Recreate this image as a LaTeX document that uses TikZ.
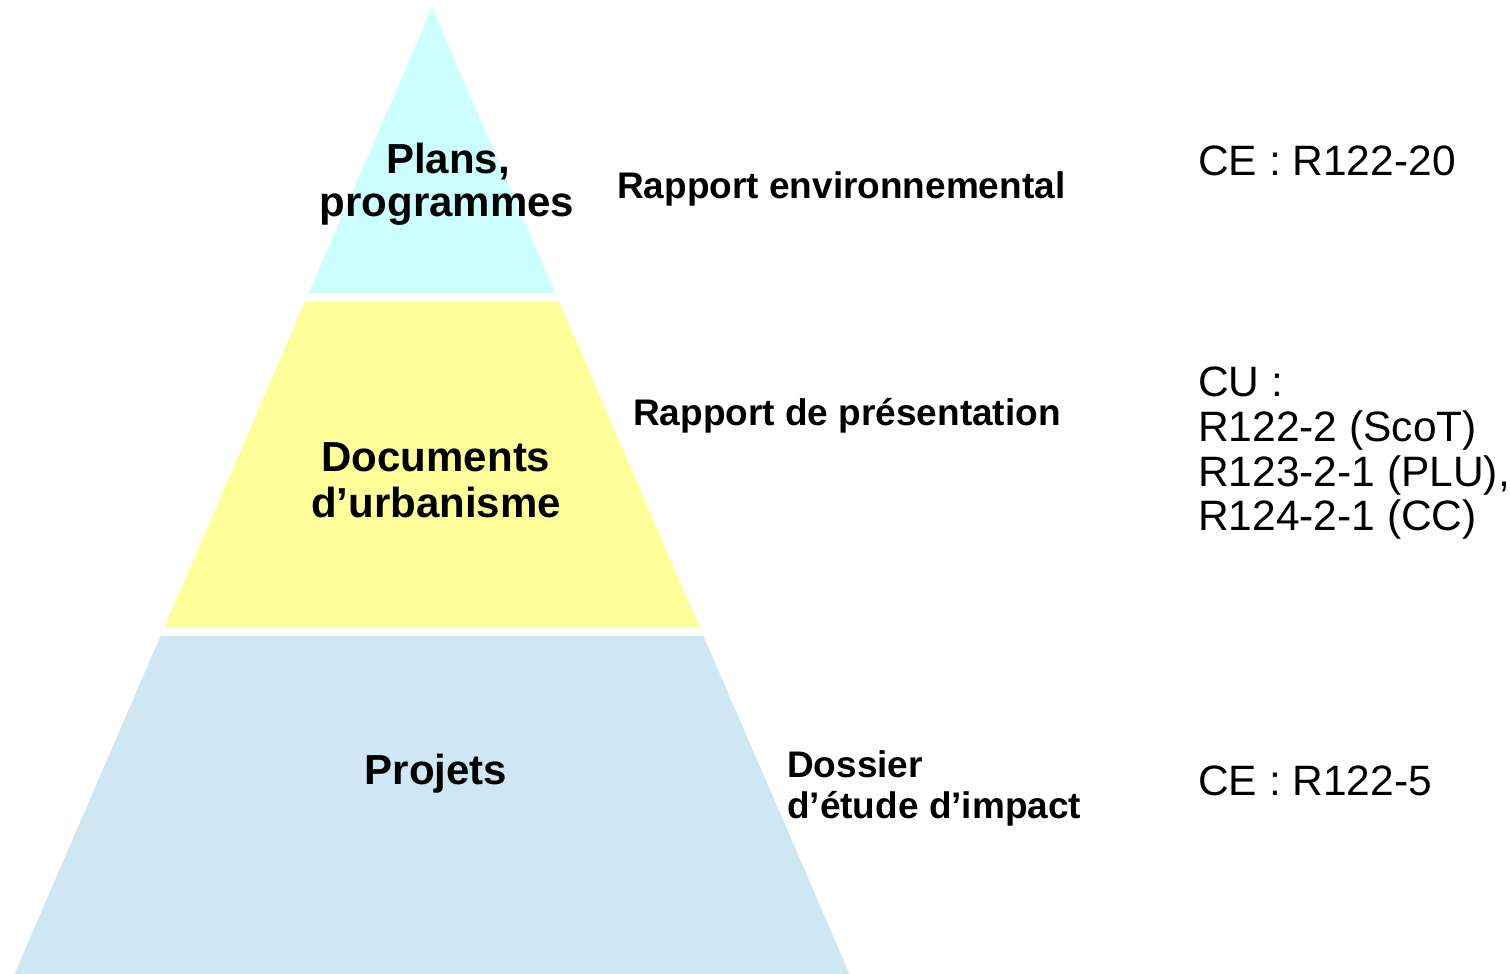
\documentclass[tikz,border=0pt]{standalone}
\usepackage{fontspec}
\setmainfont{Liberation Sans}
\definecolor{cyanfill}{HTML}{CCFFFF}
\definecolor{yellowfill}{HTML}{FFFF99}
\definecolor{bluefill}{HTML}{CFE6F3}
\tikzset{
  tier/.style={draw=none},
  mainlabel/.style={font=\fontsize{42}{48}\selectfont\bfseries, inner sep=0pt, anchor=base},
  midlabel/.style={font=\fontsize{37}{44}\selectfont\bfseries, inner sep=0pt, anchor=base west},
  reflabel/.style={font=\fontsize{42.5}{48}\selectfont, inner sep=0pt, anchor=base west}
}
\begin{document}
\begin{tikzpicture}[x=1pt,y=-1pt]
\useasboundingbox (0,0) rectangle (1510,974);
% pyramid tiers
\fill[tier, cyanfill] (432,7.5) -- (555.3,293) -- (308.7,293) -- cycle;
\fill[tier, yellowfill] (304.8,302) -- (559.2,302) -- (699.6,627) -- (164.4,627) -- cycle;
\fill[tier, bluefill] (160.5,636) -- (703.5,636) -- (849.5,974) -- (14.5,974) -- cycle;
% tier labels
\node[mainlabel] (plans1) at (448,173) {Plans,};
\node[mainlabel] (plans2) at (447,216) {programmes};
\node[mainlabel] (docs1) at (436,471) {Documents};
\node[mainlabel] (docs2) at (436,517) {d’urbanisme};
\node[mainlabel] (proj) at (436,784) {Projets};
% document labels
\node[midlabel] (rapenv) at (617,198) {Rapport environnemental};
\node[midlabel] (rappres) at (633,425) {Rapport de présentation};
\node[midlabel] (dos1) at (787,777) {Dossier};
\node[midlabel] (dos2) at (787,818) {d’étude d’impact};
% references
\node[reflabel] (ref1) at (1198,175) {CE : R122-20};
\node[reflabel] (ref2a) at (1198,396) {CU :};
\node[reflabel] (ref2b) at (1198,441) {R122-2 (ScoT)};
\node[reflabel] (ref2c) at (1198,486) {R123-2-1 (PLU),};
\node[reflabel] (ref2d) at (1198,530) {R124-2-1 (CC)};
\node[reflabel] (ref3) at (1198,795) {CE : R122-5};
\end{tikzpicture}
\end{document}
